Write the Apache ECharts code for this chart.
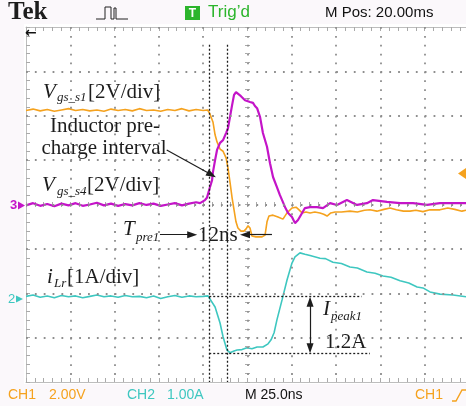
<!DOCTYPE html>
<html><head><meta charset="utf-8">
<script src="https://cdn.jsdelivr.net/npm/echarts@6/dist/echarts.min.js"></script>
<style>html,body{margin:0;padding:0;background:#ffffff;}#c{width:466px;height:406px;}</style>
</head><body><div id="c"></div>
<script>
// time axis in ns (25 ns/div; the right edge of the screen is cut at 123.3 ns), vertical in divisions
const timeRange = [-125, 123.3];
const timeStep = 25;
const divRange = [-4, 4];
const gridTimes = [-100, -75, -50, -25, 0, 25, 50, 75, 100];
const gridDivs = [-3, -2, -1, 0, 1, 2, 3];

const vgsS1 = [[-125,2.12],[-121,2.15],[-117,2.11],[-113,2.14],[-109,2.10],[-105,2.13],[-101,2.16],[-97,2.12],[-93,2.14],[-89,2.11],[-85,2.13],[-81,2.10],[-77,2.15],[-73,2.12],[-69,2.14],[-65,2.11],[-61,2.16],[-57,2.12],[-53,2.13],[-49,2.10],[-45,2.14],[-41,2.12],[-37,2.16],[-33,2.11],[-29,2.14],[-25,2.12],[-22.5,2.13],[-21.2,2.04],[-19.5,1.86],[-18.3,1.57],[-17.2,1.41],[-15.5,1.25],[-13.8,1.20],[-12.1,1.05],[-11.0,0.82],[-9.9,0.51],[-8.7,0.15],[-7.6,-0.12],[-6.5,-0.39],[-5.4,-0.53],[-3.7,-0.60],[-2.0,-0.60],[-0.8,-0.55],[0.3,-0.48],[1.4,-0.53],[2.5,-0.71],[4.8,-0.73],[8.2,-0.73],[9.9,-0.69],[11.0,-0.39],[12.1,-0.26],[14.4,-0.24],[17.2,-0.28],[20.0,-0.33],[22.3,-0.19],[25.1,-0.08],[27.4,-0.06],[29.1,-0.12],[30.8,-0.19],[33,-0.17],[35.3,-0.19],[38,-0.17],[40.9,-0.19],[43,-0.22],[44.9,-0.26],[47,-0.19],[49.4,-0.17],[53,-0.17],[57.8,-0.15],[62,-0.17],[66,-0.13],[69.1,-0.12],[73,-0.15],[77,-0.11],[80.4,-0.08],[84,-0.12],[88,-0.15],[91.7,-0.15],[95,-0.13],[99,-0.16],[103,-0.12],[108.6,-0.12],[113,-0.08],[117,-0.11],[121,-0.15],[123.3,-0.13]];

const vgsS4 = [[-125,-0.02],[-121,0.03],[-117,-0.03],[-113,0.01],[-109,-0.04],[-105,0.02],[-101,-0.02],[-97,0.03],[-93,-0.03],[-89,0.00],[-85,0.04],[-81,-0.02],[-77,0.02],[-73,-0.03],[-69,0.01],[-65,-0.02],[-61,0.03],[-57,-0.01],[-53,0.02],[-49,-0.03],[-45,0.00],[-41,0.03],[-37,-0.02],[-33,0.02],[-29,0.05],[-26.8,0.03],[-24.0,0.10],[-22.9,0.15],[-21.2,0.39],[-20.0,0.55],[-19.5,0.73],[-18.3,1.00],[-17.2,1.23],[-15.5,1.39],[-13.8,1.45],[-12.1,1.61],[-11.0,1.72],[-9.9,1.97],[-8.7,2.24],[-7.6,2.47],[-6.5,2.53],[-5.4,2.51],[-3.7,2.44],[-1.4,2.35],[1.4,2.31],[3.1,2.29],[4.2,2.22],[5.4,2.17],[7.1,1.97],[8.7,1.61],[11.0,1.30],[12.7,0.93],[14.4,0.62],[16.6,0.39],[18.3,0.21],[21.2,-0.06],[22.9,-0.19],[25.1,-0.28],[26.8,-0.42],[28.5,-0.35],[30.8,-0.19],[32.4,-0.08],[35.3,-0.06],[39.2,-0.06],[42.6,-0.08],[46.6,0.03],[50.5,-0.01],[56.1,0.10],[61.8,-0.01],[67.4,0.03],[70.8,0.10],[78.7,0.06],[86.1,0.03],[93.4,0.03],[101.3,-0.01],[108.6,0.03],[116,0.03],[123.3,0.03]];

const iLr = [[-125,-2.07],[-121,-2.04],[-117,-2.09],[-113,-2.06],[-109,-2.10],[-105,-2.05],[-101,-2.08],[-97,-2.06],[-93,-2.10],[-89,-2.07],[-85,-2.04],[-81,-2.08],[-77,-2.06],[-73,-2.09],[-69,-2.05],[-65,-2.08],[-61,-2.07],[-57,-2.10],[-53,-2.06],[-49,-2.12],[-45,-2.08],[-41,-2.05],[-37,-2.09],[-33,-2.06],[-29,-2.08],[-25,-2.07],[-22.3,-2.06],[-18.3,-2.31],[-15.5,-2.67],[-13.8,-2.98],[-11.6,-3.28],[-9.9,-3.34],[-7.6,-3.30],[-5.9,-3.28],[-3.1,-3.27],[-0.3,-3.23],[2.5,-3.25],[5.4,-3.21],[8.7,-3.21],[11.6,-3.14],[13.3,-3.05],[15.0,-2.89],[16.6,-2.60],[19.5,-2.15],[22.3,-1.70],[25.1,-1.32],[26.8,-1.18],[29.6,-1.09],[32.4,-1.12],[35.3,-1.15],[40.9,-1.21],[44,-1.22],[48.2,-1.30],[53,-1.33],[57.8,-1.41],[62,-1.43],[67.4,-1.52],[72,-1.55],[76.5,-1.61],[81,-1.64],[86.1,-1.72],[91,-1.77],[95.7,-1.86],[99,-1.88],[103.0,-1.97],[108.6,-2.02],[116,-2.04],[123.3,-2.08]];

// annotation values
const cursorTimes = [-21.6, -11.2];
const cursorSpan = [3.6, -4];
const peakLevels = [-2.06, -3.35];
const peakLevelStart = -21.6;
const peakLevelEnds = [64.4, 69.1];
const peakArrowTime = 35.3;
const peakArrowSpan = [-2.19, -3.24];
const tpreLevel = -0.68;
const tpreArrows = [[-49.4, -31.2], [13.8, -1.4]];
const inductorArrow = [[-45.6, 1.23], [-20.3, 0.67]];

const serif = "'Liberation Serif','Times New Roman',serif";
const sans = "'Liberation Sans',Arial,sans-serif";
const ORANGE = '#f5a21e', CYAN = '#3ec7c0', MAGENTA = '#c414c8', INK = '#1d1d1d';

function txt(x, y, text, size, opts) {
  opts = opts || {};
  return {type:'text', x:x, y:y, z:100, silent:true, style:{
    text:text, fill:opts.color || INK,
    font:(opts.italic ? 'italic ' : '') + (opts.bold ? 'bold ' : '') + size + 'px ' + (opts.family || serif),
    textAlign:opts.align || 'left', textVerticalAlign:'middle', align:opts.align || 'left', verticalAlign:'middle'}};
}

const tickStyle = {color:'#aaaaaa', width:1};
function borderX(pos) {
  return {type:'value', min:timeRange[0], max:timeRange[1], interval:timeStep, position:pos,
    axisLine:{show:true, onZero:false, lineStyle:{color:'#bdbdbd', width:1}},
    axisTick:{show:true, inside:true, length:4, lineStyle:tickStyle},
    minorTick:{show:true, splitNumber:5, length:4, lineStyle:tickStyle},
    axisLabel:{show:false}, splitLine:{show:false}};
}
function centerX(inside) {
  return {type:'value', min:timeRange[0], max:timeRange[1], interval:timeStep, position:'bottom',
    axisLine:{show:false, onZero:true, onZeroAxisIndex:0},
    axisTick:{show:true, inside:inside, length:2.5, lineStyle:tickStyle},
    minorTick:{show:true, splitNumber:5, length:2.5, lineStyle:tickStyle},
    axisLabel:{show:false}, splitLine:{show:false}};
}
function borderY(pos) {
  return {type:'value', min:divRange[0], max:divRange[1], interval:1, position:pos,
    axisLine:{show:true, onZero:false, lineStyle:{color:'#bdbdbd', width:1}},
    axisTick:{show:true, inside:true, length:4, lineStyle:tickStyle},
    minorTick:{show:true, splitNumber:5, length:4, lineStyle:tickStyle},
    axisLabel:{show:false}, splitLine:{show:false}};
}
function centerY(inside) {
  return {type:'value', min:divRange[0], max:divRange[1], interval:1, position:'left',
    axisLine:{show:false, onZero:true, onZeroAxisIndex:0},
    axisTick:{show:true, inside:inside, length:2.5, lineStyle:tickStyle},
    minorTick:{show:true, splitNumber:5, length:2.5, lineStyle:tickStyle},
    axisLabel:{show:false}, splitLine:{show:false}};
}

function trace(data, color, width) {
  return {type:'line', data:data, xAxisIndex:0, yAxisIndex:0, showSymbol:false, symbol:'none',
    silent:true, z:3, lineStyle:{color:color, width:width}};
}

// graticule (dotted lines at every division, drawn from the tick arrays)
const graticuleV = gridTimes.map(t => [{coord:[t, divRange[1]]}, {coord:[t, divRange[0]]}]);
const graticuleH = gridDivs.map(v => [{coord:[timeRange[0], v]}, {coord:[timeRange[1], v]}]);

const dotted = {color:INK, width:1.3, type:[2, 2]};
const cursorLines = cursorTimes.map(t => [{coord:[t, cursorSpan[0]]}, {coord:[t, cursorSpan[1]]}]);
const levelLines = peakLevels.map((v, i) => [{coord:[peakLevelStart, v]}, {coord:[peakLevelEnds[i], v]}]);
const tpreLines = tpreArrows.map(a => [{coord:[a[0], tpreLevel]}, {coord:[a[1], tpreLevel]}]);

const option = {
  animation:false,
  backgroundColor:'#ffffff',
  grid:{left:26, top:27, width:440, height:355, show:false, containLabel:false},
  xAxis:[borderX('bottom'), borderX('top'), centerX(true), centerX(false)],
  yAxis:[borderY('left'), centerY(true), centerY(false)],
  series:[
    {type:'line', data:[], silent:true, z:1,
      markLine:{silent:true, animation:false, symbol:['none','none'], label:{show:false},
        lineStyle:{color:'#8e8e8e', width:1.8, type:[1.8, 7.075]}, emphasis:{disabled:true}, data:graticuleV}},
    {type:'line', data:[], silent:true, z:1,
      markLine:{silent:true, animation:false, symbol:['none','none'], label:{show:false},
        lineStyle:{color:'#8e8e8e', width:1.8, type:[1.8, 7.06]}, emphasis:{disabled:true}, data:graticuleH}},
    trace(vgsS1, ORANGE, 1.6),
    trace(iLr, CYAN, 1.6),
    trace(vgsS4, MAGENTA, 2.2),
    {type:'line', data:[], silent:true, z:5,
      markLine:{silent:true, animation:false, symbol:['none','none'], label:{show:false},
        lineStyle:dotted, emphasis:{disabled:true}, data:cursorLines.concat(levelLines)}},
    {type:'line', data:[], silent:true, z:5,
      markLine:{silent:true, animation:false, symbol:['none','triangle'], symbolSize:[7,10], label:{show:false},
        lineStyle:{color:INK, width:1.2, type:'solid'}, emphasis:{disabled:true},
        data:tpreLines.concat([[{coord:inductorArrow[0]}, {coord:inductorArrow[1]}]])}},
    {type:'line', data:[], silent:true, z:5,
      markLine:{silent:true, animation:false, symbol:['triangle','triangle'], symbolSize:[7,10], label:{show:false},
        lineStyle:{color:INK, width:1.2, type:'solid'}, emphasis:{disabled:true},
        data:[[{coord:[peakArrowTime, peakArrowSpan[0]]}, {coord:[peakArrowTime, peakArrowSpan[1]]}]]}}
  ],
  graphic:[
    {type:'rect', z:-10, silent:true, shape:{x:0, y:0, width:466, height:24}, style:{fill:'#fbf8fb'}},
    {type:'rect', z:-10, silent:true, shape:{x:0, y:384, width:466, height:22}, style:{fill:'#fbf8fb'}},
    {type:'rect', z:-10, silent:true, shape:{x:0, y:24, width:24, height:360}, style:{fill:'#fbf8fb'}},
    // status bar
    txt(8, 12.5, 'Tek', 25, {bold:true}),
    {type:'polyline', z:100, silent:true, shape:{points:[[96,19],[105,19],[105,7],[111,7],[111,19],[114,19],[114,8],[116,8],[116,19],[128,19]]}, style:{stroke:'#222', lineWidth:1, fill:null}},
    {type:'rect', z:100, silent:true, shape:{x:185, y:6, width:15, height:14}, style:{fill:'#2cb52c'}},
    txt(192.5, 13.5, 'T', 12, {bold:true, color:'#ffffff', family:sans, align:'center'}),
    txt(208, 12.5, 'Trig\u2019d', 17, {color:'#2cb52c', family:sans}),
    txt(325, 13, 'M Pos: 20.00ms', 15, {family:sans, color:'#111'}),
    txt(25, 33, '\u2190', 14, {bold:true, family:"'DejaVu Sans',sans-serif", color:'#111'}),
    // bottom bar
    txt(8, 395, 'CH1', 14, {family:sans, color:ORANGE}),
    txt(49, 395, '2.00V', 14, {family:sans, color:ORANGE}),
    txt(127, 395, 'CH2', 14, {family:sans, color:CYAN}),
    txt(167, 395, '1.00A', 14, {family:sans, color:CYAN}),
    txt(245, 395, 'M 25.0ns', 14, {family:sans, color:'#111'}),
    txt(415, 395, 'CH1', 14, {family:sans, color:ORANGE}),
    {type:'polyline', z:100, silent:true, shape:{points:[[452,401],[456,401],[462,390],[466,390]]}, style:{stroke:ORANGE, lineWidth:1.4, fill:null}},
    // channel markers
    txt(10, 205.5, '3', 13, {bold:true, family:sans, color:MAGENTA}),
    {type:'polygon', z:100, silent:true, shape:{points:[[18,201.5],[25,205.5],[18,209.5]]}, style:{fill:MAGENTA}},
    txt(8, 299, '2', 13, {family:sans, color:CYAN}),
    {type:'polygon', z:100, silent:true, shape:{points:[[16,295.5],[23,299],[16,302.5]]}, style:{fill:CYAN}},
    {type:'polygon', z:100, silent:true, shape:{points:[[458,173.5],[466,168],[466,179]]}, style:{fill:ORANGE}},
    // annotations
    txt(43, 92.2, 'V', 21, {italic:true}),
    txt(57, 97.6, 'gs_s1', 13, {italic:true}),
    txt(88, 92.2, '[2V/div]', 21),
    txt(105, 126.9, 'Inductor pre-', 21, {align:'center'}),
    txt(104, 148.4, 'charge interval', 21, {align:'center'}),
    txt(42, 185.9, 'V', 21, {italic:true}),
    txt(57, 191.6, 'gs_s4', 13, {italic:true}),
    txt(87, 185.9, '[2V/div]', 21),
    txt(123, 229.9, 'T', 21, {italic:true}),
    txt(136, 237.6, 'pre1', 13, {italic:true}),
    txt(198, 235.9, '12ns', 21),
    txt(47, 277.9, 'i', 21, {italic:true}),
    txt(54, 283.6, 'Lr', 13, {italic:true}),
    txt(67, 277.9, '[1A/div]', 21),
    txt(323, 309.9, 'I', 21, {italic:true}),
    txt(331, 316.6, 'peak1', 13, {italic:true}),
    txt(325, 342.9, '1.2A', 21)
  ]
};
const chart = echarts.init(document.getElementById('c'), null, {renderer:'canvas'});
chart.setOption(option);
</script></body></html>
